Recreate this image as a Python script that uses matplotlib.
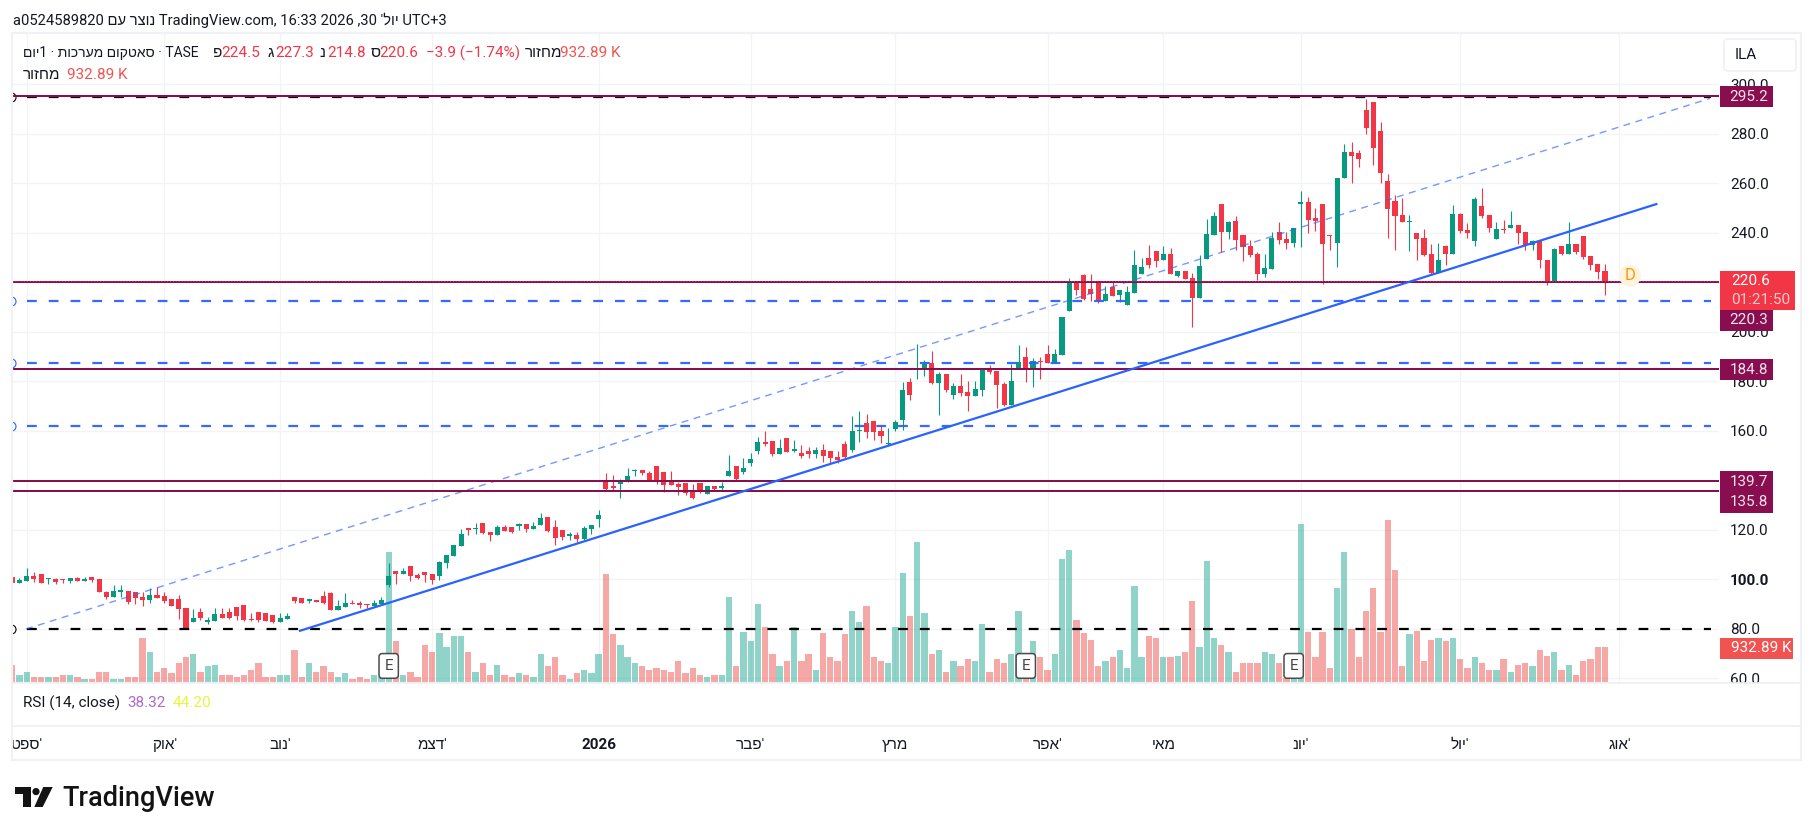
# -*- coding: utf-8 -*-
import matplotlib
matplotlib.use("Agg")
import matplotlib.pyplot as plt
import numpy as np
from matplotlib.patches import Circle, FancyBboxPatch, Polygon, Rectangle

plt.rcParams["font.family"] = ["Roboto", "Liberation Sans", "DejaVu Sans"]

# daily bars
opens = [
    100.8, 98.6, 99.4, 101.3, 102.1, 100.2, 100.1, 100.1, 99.3, 100.5,
    99.4, 100.8, 100.1, 94.9, 93, 95, 95.3, 94.9, 92.8, 91.6,
    93.7, 93.3, 92, 92, 88.4, 82.7, 86.8, 82.7, 83.2, 86,
    86.8, 88.8, 89.6, 84, 86.8, 86.4, 85.6, 82.7, 84, 92.8,
    92.4, 91.4, 91.6, 93.3, 94.5, 87.6, 88.8, 90.4, 90.4, 90,
    89.2, 90, 97.7, 103.3, 102.1, 105.4, 101.7, 103, 102.1, 101.3,
    106.6, 109.4, 113.4, 120.7, 120.3, 122.7, 119.1, 117.9, 121.1, 121.1,
    121.5, 122.3, 120.3, 122, 125.2, 121.1, 119.9, 117.6, 117.9, 116.3,
    120.3, 124.4, 140, 137.4, 138.6, 139.6, 143.7, 144, 142.9, 145.7,
    143.3, 139.2, 138.5, 138.9, 136.1, 138.9, 134.4, 137.7, 137, 141.7,
    145.7, 143.3, 147, 151.8, 155.4, 155.9, 150.6, 157.1, 151.9, 151,
    151.8, 150.6, 152.2, 151.8, 149.4, 154.6, 152.2, 160, 163.1, 163.9,
    159.9, 154.6, 160.7, 164.3, 179.7, 184.7, 184.5, 187.4, 179.3, 182.9,
    174.4, 178.1, 175.6, 174, 176.5, 185.3, 184.1, 178.9, 170.4, 185.3,
    189.8, 184.5, 188.2, 191, 187.4, 190.6, 208.4, 220.1, 223, 217.3,
    219.7, 212.4, 218.1, 214.9, 210.8, 215.7, 223.4, 229.8, 232.7, 229,
    231.4, 222.5, 224.6, 221.7, 213.7, 229.4, 239.1, 251.6, 240.3, 244.8,
    239.1, 234.7, 231.4, 223.4, 225.4, 240.3, 237.5, 235.9, 251.6, 252.4,
    246, 251.6, 239.1, 235.9, 262.1, 272.6, 272.2, 289.6, 292.9, 281.1,
    260.9, 252.9, 247.2, 244.4, 239.9, 237.9, 231.4, 223.8, 234.7, 231.4,
    247.6, 241.1, 236.7, 250.8, 247.2, 237.5, 241.5, 241.9, 243.2, 240.3,
    235.1, 236.7, 229, 220.1, 234.7, 231.4, 235.5, 238.7, 230.6, 227.4, 224.5,
]
highs = [
    100.8, 100.5, 104.6, 103, 102.1, 100.5, 100.4, 100.1, 100.5, 100.8,
    100.9, 100.9, 100.1, 95.3, 97.8, 97.7, 95.3, 94.9, 94.7, 96.5,
    96.9, 94.9, 92, 93.7, 88.4, 88, 88.4, 84.8, 88.4, 88.4,
    88.4, 88.8, 89.6, 86.4, 86.8, 86.4, 85.6, 86.4, 86.4, 92.8,
    92.4, 92, 91.6, 95.3, 94.9, 91.6, 94.5, 91.6, 91.2, 90,
    91.6, 92.8, 106.6, 103.3, 104.6, 105.4, 102.5, 103, 102.1, 107.4,
    109.8, 113.9, 120.3, 120.7, 122.7, 122.7, 119.1, 122, 122, 121.1,
    122.7, 122.3, 123.2, 126.8, 125.2, 124, 119.9, 119.1, 119.1, 121.5,
    122, 128, 142.8, 142, 140.4, 144.9, 144.4, 144, 143.6, 145.7,
    143.3, 143.7, 139.3, 138.9, 138.5, 138.9, 137.7, 137.7, 139.3, 150.2,
    145.7, 149, 151, 157.5, 159.9, 155.9, 156.7, 157.1, 156.3, 154.2,
    153.4, 153.4, 154.6, 151.8, 151.8, 155.9, 165.9, 168, 166.8, 163.9,
    162.3, 161.1, 164.3, 179.7, 181.3, 195, 188.6, 192.2, 183.7, 182.9,
    179.3, 182.9, 180.1, 180.1, 184.5, 186.6, 184.1, 179.7, 187, 194.6,
    193.8, 189.4, 189.8, 194.6, 193, 206, 221.7, 220.4, 223.3, 223.3,
    219.7, 218.5, 220.5, 216.9, 218.5, 233.1, 229.8, 235, 232.7, 234.7,
    233.9, 224.6, 224.6, 223.8, 231, 245.6, 248.4, 251.6, 244.8, 246.8,
    239.1, 237.1, 232.2, 231.4, 240.3, 244.4, 240.3, 241.9, 256.9, 254.5,
    250, 251.6, 239.1, 262.1, 275.9, 276.7, 273.5, 294.1, 292.9, 284.8,
    263.8, 255.3, 254.1, 247.2, 239.9, 241.5, 235.5, 235.9, 235.1, 251.2,
    248, 244, 254.5, 258.1, 247.2, 244.4, 245.2, 248.8, 243.2, 240.3,
    237.1, 236.7, 229, 233.9, 234.7, 244.4, 235.5, 238.7, 230.6, 227.4, 227.3,
]
lows = [
    98.4, 98.6, 99.3, 99, 98.6, 98.2, 98.2, 98.6, 98.6, 99.3,
    99.3, 98.9, 95, 92.2, 92.8, 92.8, 90.2, 90, 89.2, 90.6,
    92.4, 90.6, 89.2, 84, 79.8, 82.7, 83.6, 81.9, 83.2, 84.4,
    83.8, 83.6, 83.3, 83.2, 82.7, 83, 82.3, 82.7, 84, 90.4,
    90.4, 90.4, 90.8, 90, 87.7, 87.6, 88.8, 90, 88.5, 88.4,
    88.8, 90, 96.9, 98.1, 102.1, 99.3, 100.1, 98.9, 98.1, 99.7,
    104.6, 109.4, 113.4, 117.9, 118.3, 118.3, 115.5, 117.9, 119.5, 118.7,
    119.9, 119.1, 120.3, 122, 119.1, 113.9, 115.9, 115.9, 115.1, 115.9,
    118.3, 121.1, 136.1, 135.8, 133, 139.2, 141.7, 142.1, 139.7, 138.7,
    135.2, 138.1, 134, 134, 132.4, 134.8, 134.4, 135.7, 136.1, 141.7,
    140.1, 142.5, 145.7, 150.6, 153.8, 149.8, 150.6, 151.4, 151.4, 149,
    149, 149, 147.4, 147, 147, 149, 151.4, 155.4, 157.1, 156.3,
    155, 153.8, 159.9, 160.3, 172.4, 180.9, 182.1, 178.9, 166.4, 175.6,
    172.8, 174, 168, 174, 174, 182.9, 169.2, 170, 170.4, 185.3,
    179.7, 177.7, 180.9, 187.4, 187.4, 190.6, 208.4, 214.9, 212.9, 212.4,
    211.6, 212.4, 214.5, 212, 210.8, 215.7, 223.4, 225.8, 226.2, 229,
    223.4, 222, 221.3, 202, 213.7, 229.4, 239.1, 232.2, 237.5, 233.1,
    228.6, 230.2, 220.9, 222.1, 225.4, 235.5, 233.5, 234.3, 234.3, 239.9,
    240.7, 219.3, 233.1, 226.2, 262.1, 260.1, 266.6, 279.9, 267.4, 260.1,
    237.9, 233.1, 244.4, 232.7, 229, 230.6, 223, 223.8, 227, 231.4,
    239.9, 237.9, 234.7, 246, 240.3, 237.5, 239.9, 241.9, 235.5, 233.1,
    233.1, 225.8, 218.9, 220.1, 231, 231.4, 231.4, 229.4, 225, 221.3, 214.8,
]
closes = [
    98.4, 99.7, 101.3, 100.1, 98.6, 100.5, 99, 99.8, 100.5, 99.4,
    100.1, 99.7, 95, 93, 95.3, 95.3, 91, 92.4, 91.6, 93.7,
    92.6, 91.2, 89.2, 88.1, 79.8, 84.4, 84.4, 83.6, 86, 84.4,
    84.4, 85.2, 83.6, 83.6, 83.6, 83.2, 82.7, 84.4, 85.2, 91.2,
    90.4, 91.6, 90.8, 90.4, 87.7, 89.2, 90.4, 90, 89.6, 89.6,
    90.4, 91.6, 101.3, 102.3, 103.3, 101.3, 100.5, 101.7, 99.7, 107,
    109.8, 113.9, 118.3, 119.9, 120.7, 118.7, 117.9, 121.1, 119.5, 119.1,
    122.3, 120.3, 121.5, 124.8, 119.5, 116.7, 117.1, 117.9, 116.3, 120.7,
    122, 126, 136.5, 137, 140, 141.7, 144, 142.8, 140, 139.3,
    138.1, 138.1, 137.3, 135, 132.8, 135.7, 137.7, 136.5, 137.3, 143.7,
    140.5, 144.9, 148.6, 155.4, 154.6, 150.6, 153, 151.4, 152.6, 149.8,
    150.6, 152.2, 149.8, 149, 148.2, 149.4, 159.9, 160.3, 159.5, 159.5,
    157.9, 154.9, 163.5, 176.5, 174.4, 184.9, 187, 179.3, 182.9, 176.5,
    178.1, 175.2, 174, 176.9, 184.5, 183.7, 178.5, 170.4, 180.1, 187.6,
    184.5, 188.2, 187.8, 187.4, 191, 206, 220.1, 216.9, 213.3, 215.3,
    212.4, 215.3, 214.5, 216.9, 216.1, 227, 226.2, 227, 228.6, 231.4,
    223.4, 224.6, 221.3, 213.7, 226.6, 239.5, 246.8, 240.3, 244.4, 237.1,
    234.3, 231, 223.4, 225.8, 237.9, 237.1, 235.9, 241.9, 252.4, 245.2,
    244.8, 235.5, 238.8, 262.1, 272.6, 271, 269.8, 282.3, 274.3, 264.2,
    249.6, 246.8, 244.4, 244.8, 237.5, 231, 223.8, 229, 231.4, 247.6,
    240.7, 239.9, 253.7, 246.8, 241.9, 241.5, 241.1, 243.2, 239.9, 235.1,
    236.7, 229, 220.1, 233.5, 231.4, 235.5, 232.2, 230.2, 227, 224.2, 220.6,
]
# volume in thousands
volumes = [
    466, 165, 247, 137, 110, 137, 137, 165, 165, 137,
    82, 82, 247, 274, 82, 82, 137, 137, 1180, 796,
    247, 384, 220, 521, 686, 768, 247, 412, 466, 165,
    165, 137, 165, 329, 521, 137, 110, 165, 165, 851,
    110, 521, 247, 439, 247, 110, 220, 82, 110, 82,
    165, 137, 3567, 1125, 165, 247, 137, 1015, 796, 1344,
    960, 1235, 1262, 796, 274, 521, 192, 466, 165, 110,
    220, 192, 110, 741, 439, 659, 165, 82, 220, 329,
    220, 768, 2963, 1290, 1015, 659, 521, 412, 329, 357,
    302, 274, 549, 220, 357, 165, 110, 165, 192, 2305,
    412, 1372, 1098, 2140, 1509, 741, 412, 576, 1482, 576,
    768, 302, 1344, 659, 576, 1290, 1948, 1619, 2085, 686,
    549, 494, 1482, 2991, 1811, 3841, 1893, 741, 851, 274,
    549, 439, 631, 576, 1591, 274, 604, 521, 741, 1948,
    146, 1125, 686, 329, 741, 3375, 3622, 1674, 1344, 1152,
    439, 549, 659, 878, 384, 2607, 659, 1235, 1180, 686,
    659, 713, 823, 2222, 960, 3320, 1180, 1015, 823, 247,
    521, 494, 494, 823, 741, 521, 101, 146, 4335, 1372,
    659, 1372, 357, 2552, 3540, 1454, 659, 1948, 2579, 1372,
    4445, 3046, 439, 1290, 1399, 576, 1152, 1180, 1098, 1207,
    631, 384, 659, 494, 329, 329, 604, 274, 466, 494,
    412, 851, 713, 796, 329, 466, 192, 576, 604, 933, 933,
]

month_bars = [2, 21, 37, 58, 81, 102, 122, 143, 159, 178, 200, 222]
month_names = ["'ספט", "'אוק", "'נוב", "'דצמ", "2026", "'פבר", "מרץ", "'אפר", "מאי", "'יונ", "'יול", "'אוג"]
price_ticks = [60, 80, 100, 120, 140, 160, 180, 200, 220, 240, 260, 280, 300]

purple_levels = [295.2, 220.3, 184.8, 139.7, 135.8]
blue_levels = [212.6, 187.5, 162.0]
black_levels = [294.7, 80.0]
earnings_bars = [52, 140, 177]
last_close = 220.6

# trend lines: (bar, price) at both ends
trend_solid = ([39.75, 227.1], [79.2, 251.6])
trend_thin = ([1.9, 234.5], [79.9, 294.3])

UP = "#089981"
DOWN = "#F23645"
PURPLE = "#880E4F"
BLUE = "#2962FF"
INK = "#131722"
GRID = "#F2F3F5"
FONT = 11


def rtl(s):
    # matplotlib has no bidi, so hebrew is laid out by hand
    return s[::-1]


W, H = 1814, 835
fig = plt.figure(figsize=(W / 100, H / 100), dpi=100, facecolor="white")
rect = [12 / W, 1 - 682 / H, (1719 - 12) / W, (682 - 33) / H]
xlim = (-0.03, 235.75)
ylim = (58.5, 320.73)

# bottom layer: grid and the axis labels
base = fig.add_axes(rect, zorder=0)
base.set_xlim(xlim)
base.set_ylim(ylim)
for s in base.spines.values():
    s.set_visible(False)
base.set_xticks(month_bars)
base.set_xticklabels([m if m == "2026" else rtl(m) for m in month_names], fontsize=FONT, color=INK)
for lab, m in zip(base.get_xticklabels(), month_names):
    if m == "2026":
        lab.set_fontweight("bold")
base.yaxis.tick_right()
base.set_yticks(price_ticks)
base.set_yticklabels(["%.1f" % p for p in price_ticks], fontsize=FONT, color=INK)
for lab, p in zip(base.get_yticklabels(), price_ticks):
    if p == 100:
        lab.set_fontweight("bold")
base.tick_params(axis="x", length=0, pad=40)
base.tick_params(axis="y", length=0, pad=8.0)
base.grid(True, color=GRID, lw=0.9)
base.set_axisbelow(True)

x = np.arange(len(closes))
o, h, l, c = map(np.array, (opens, highs, lows, closes))
is_up = c >= o

# volume sits on its own scale at the foot of the pane
vol = fig.add_axes(rect, zorder=1, facecolor="none")
vol.set_xlim(xlim)
vol.set_ylim(-13.7, 17795)
vol.axis("off")
vol.bar(x, volumes, width=0.87, color=np.where(is_up, "#22AB94", "#EF5350"), alpha=0.5, lw=0)

# candles and drawings
ax = fig.add_axes(rect, zorder=2, facecolor="none")
ax.set_xlim(xlim)
ax.set_ylim(ylim)
ax.axis("off")
cols = np.where(is_up, UP, DOWN)
ax.vlines(x, l, h, colors=cols, lw=0.8, zorder=3)
ax.bar(x, np.maximum(np.abs(c - o), 0.5), bottom=np.minimum(o, c), width=0.7, color=cols, lw=0, zorder=3)

dash = (0, (4.4, 5.4))
for lev in black_levels:
    ln, = ax.plot([2, 234.7], [lev, lev], color="black", lw=1.6, ls=dash, zorder=4)
    ln.set_dash_capstyle("butt")
for lev in blue_levels:
    ln, = ax.plot([2, 234.7], [lev, lev], color=BLUE, lw=1.6, ls=dash, alpha=0.95, zorder=4)
    ln.set_dash_capstyle("butt")
for lev in purple_levels:
    ax.plot(xlim, [lev, lev], color=PURPLE, lw=1.44, zorder=5)
ax.plot(xlim, [last_close, last_close], color=DOWN, lw=0.7, ls=(0, (1, 2)), zorder=6)
ax.plot(trend_solid[0], trend_solid[1], color=BLUE, lw=1.6, zorder=6)
ax.plot(trend_thin[0], trend_thin[1], color=BLUE, lw=1.0, ls=(0, (5, 4)), alpha=0.65, zorder=4)

# line anchors, cut by the pane edge
for lev, col in [(294.7, "black"), (80.0, "black")] + [(b, BLUE) for b in blue_levels]:
    ax.plot([-0.2], [lev], "o", ms=6.5, mfc="none", mec=col, mew=0.8, zorder=4)

for b in earnings_bars:
    ax.text(b, 65, "E", ha="center", va="center", fontsize=FONT, color="#444444", zorder=8,
            bbox=dict(boxstyle="round,pad=0.35,rounding_size=0.2", fc="white", ec="#4a4a4a", lw=1.1))

# everything around the panes, in pixels
ov = fig.add_axes([0, 0, 1, 1], zorder=5, facecolor="none")
ov.set_xlim(0, W)
ov.set_ylim(H, 0)
ov.axis("off")

ov.add_patch(Rectangle((12, 683), 1789, 42, fc="white", ec="none"))
ov.add_patch(Rectangle((12, 33), 1789, 727, fc="none", ec="#F0F1F4", lw=1.6))
ov.plot([12, 1801], [682.5, 682.5], color="#EEEFF2", lw=1.2)
ov.plot([12, 1801], [725.5, 725.5], color="#EEEFF2", lw=1.2)

# header
ov.text(13, 20, "a0524589820 " + rtl("נוצר עם") + " TradingView.com, 16:33 2026 ,30 " + rtl("יול'") + " UTC+3",
        fontsize=10.6, color=INK, va="center")

# legend rows
ov.text(23, 53, rtl("יום") + "1 · " + rtl("סאטקום מערכות") + " · TASE", fontsize=10, color=INK, va="center")
value_labels = ["פ", "ג", "נ", "ס"]
value_texts = ["224.5", "227.3", "214.8", "220.6"]
label_x = [213, 267, 319, 371]
for lab, val, lx in zip(value_labels, value_texts, label_x):
    ov.text(lx, 53, lab, fontsize=FONT, color=INK, va="center")
    ov.text(lx + 8, 53, val, fontsize=FONT, color=DOWN, va="center")
ov.text(426, 53, "−3.9 (−1.74%)", fontsize=FONT, color=DOWN, va="center")
ov.text(525, 53, rtl("מחזור"), fontsize=FONT, color=INK, va="center")
ov.text(560, 53, "932.89 K", fontsize=FONT, color="#F05350", va="center")
ov.text(23, 75, rtl("מחזור"), fontsize=FONT, color=INK, va="center")
ov.text(67, 75, "932.89 K", fontsize=FONT, color="#F05350", va="center")

ov.text(23, 703, "RSI (14, close)", fontsize=FONT, color=INK, va="center")
ov.text(127, 703, "38.32", fontsize=FONT, color="#AB6BCB", va="center")
ov.text(173, 703, "44.20", fontsize=FONT, color="#E6F53A", va="center")

# currency button
ov.add_patch(FancyBboxPatch((1727, 42), 66, 26, boxstyle="round,pad=3,rounding_size=4", fc="white", ec="#EEF0F3", lw=1.2))
ov.text(1735, 55, "ILA", fontsize=FONT, color=INK, va="center")

# price tags
tags = [(86, 107.3, "295.2"), (310, 331, "220.3"), (359, 380, "184.8"), (471, 492, "139.7"), (492, 513, "135.8")]
for y0, y1, t in tags:
    ov.add_patch(Rectangle((1720, y0), 53, y1 - y0, fc=PURPLE, ec="none"))
    ov.text(1749, (y0 + y1) / 2, t, fontsize=FONT, color="#F6E3EC", ha="center", va="center")
ov.add_patch(Rectangle((1720, 271), 75, 39, fc=DOWN, ec="none"))
ov.text(1731, 281, "220.6", fontsize=FONT, color="white", va="center")
ov.text(1731, 300, "01:21:50", fontsize=FONT, color="#FBC9CE", va="center")
ov.add_patch(Rectangle((1720, 638), 73, 21, fc="#F05350", ec="none"))
ov.text(1731, 648.5, "932.89 K", fontsize=FONT, color="white", va="center")

# daily session marker
ov.add_patch(Circle((1630, 275.7), 11, fc="#FFF3E0", ec="none"))
ov.text(1630, 276, "D", fontsize=12, color="#FF9800", ha="center", va="center")

# logo
ov.add_patch(Polygon([(15, 787), (31, 787), (31, 807), (23, 807), (23, 794), (15, 794)], fc="#131313", ec="none"))
ov.add_patch(Circle((36, 791.6), 3.6, fc="#131313", ec="none"))
ov.add_patch(Polygon([(43.3, 787), (52.7, 787), (42.7, 807), (34.3, 807)], fc="#131313", ec="none"))
ov.text(62, 806, "TradingView", fontsize=19.5, color="#131313", va="baseline", fontweight="medium")

fig.savefig("out.png", dpi=100)
